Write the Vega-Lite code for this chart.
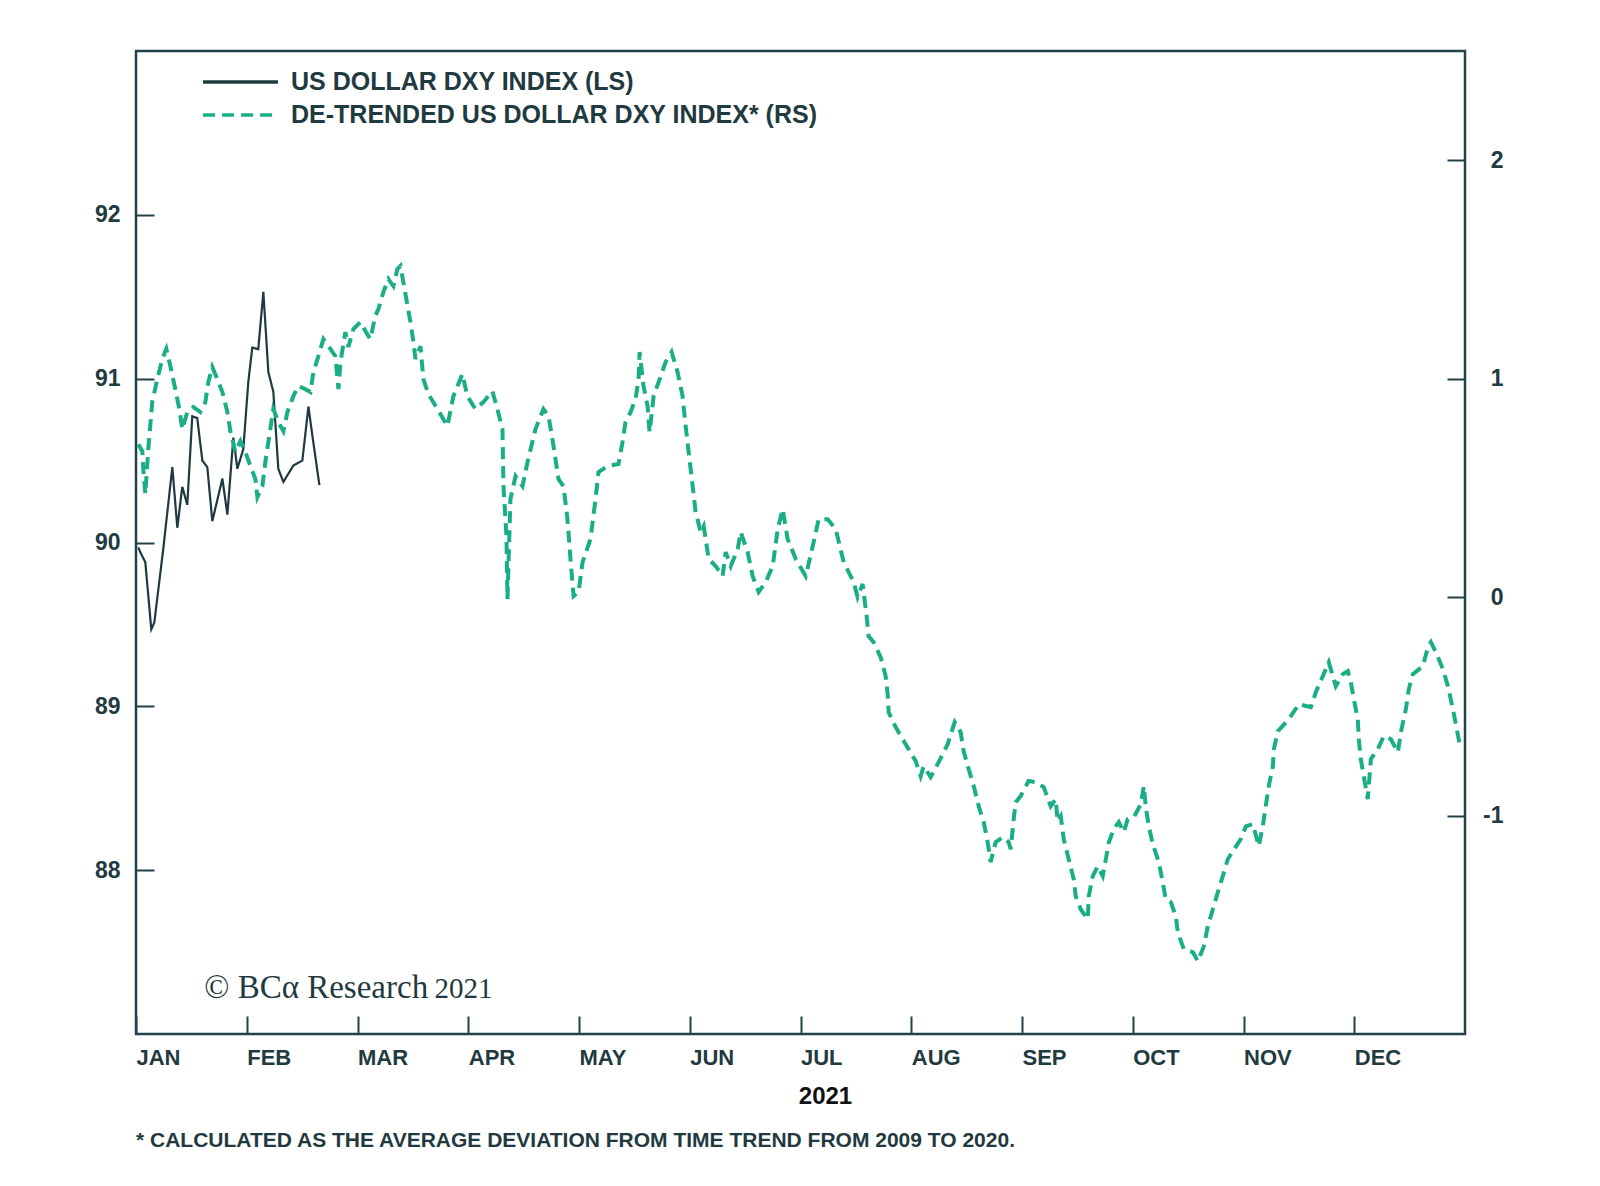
{
  "$schema": "https://vega.github.io/schema/vega-lite/v6.json",
  "width": 1329,
  "height": 983,
  "autosize": "none",
  "padding": {"left": 136, "top": 51, "right": 135, "bottom": 152},
  "background": "white",
  "title": {
    "text": "* CALCULATED AS THE AVERAGE DEVIATION FROM TIME TREND FROM 2009 TO 2020.",
    "orient": "bottom",
    "anchor": "start",
    "frame": "group",
    "font": "Liberation Sans",
    "fontSize": 21,
    "fontWeight": "bold",
    "color": "#1f3a40",
    "offset": 22
  },
  "datasets": {
    "dxy": [
      {"m": 0.021, "v": 89.97}, {"m": 0.039, "v": 89.94}, {"m": 0.084, "v": 89.88}, {"m": 0.138, "v": 89.47},
      {"m": 0.165, "v": 89.51}, {"m": 0.246, "v": 89.96}, {"m": 0.328, "v": 90.46}, {"m": 0.373, "v": 90.09},
      {"m": 0.418, "v": 90.34}, {"m": 0.463, "v": 90.23}, {"m": 0.508, "v": 90.77}, {"m": 0.553, "v": 90.76},
      {"m": 0.599, "v": 90.5}, {"m": 0.644, "v": 90.46}, {"m": 0.689, "v": 90.13}, {"m": 0.78, "v": 90.39},
      {"m": 0.825, "v": 90.17}, {"m": 0.879, "v": 90.64}, {"m": 0.915, "v": 90.45}, {"m": 0.969, "v": 90.57},
      {"m": 1.014, "v": 90.98}, {"m": 1.05, "v": 91.19}, {"m": 1.104, "v": 91.18}, {"m": 1.15, "v": 91.53},
      {"m": 1.195, "v": 91.04}, {"m": 1.24, "v": 90.92}, {"m": 1.285, "v": 90.45}, {"m": 1.331, "v": 90.37},
      {"m": 1.421, "v": 90.47}, {"m": 1.502, "v": 90.5}, {"m": 1.557, "v": 90.83}, {"m": 1.593, "v": 90.65},
      {"m": 1.656, "v": 90.35}
    ],
    "detr": [
      {"m": 0.021, "v": 0.7}, {"m": 0.057, "v": 0.668}, {"m": 0.066, "v": 0.586}, {"m": 0.084, "v": 0.472},
      {"m": 0.111, "v": 0.678}, {"m": 0.147, "v": 0.893}, {"m": 0.192, "v": 0.998}, {"m": 0.238, "v": 1.09},
      {"m": 0.274, "v": 1.136}, {"m": 0.31, "v": 1.058}, {"m": 0.355, "v": 0.952}, {"m": 0.391, "v": 0.861},
      {"m": 0.418, "v": 0.769}, {"m": 0.463, "v": 0.847}, {"m": 0.518, "v": 0.87}, {"m": 0.581, "v": 0.847},
      {"m": 0.626, "v": 0.893}, {"m": 0.653, "v": 0.984}, {"m": 0.689, "v": 1.053}, {"m": 0.734, "v": 0.998},
      {"m": 0.78, "v": 0.939}, {"m": 0.825, "v": 0.847}, {"m": 0.852, "v": 0.76}, {"m": 0.897, "v": 0.664},
      {"m": 0.943, "v": 0.714}, {"m": 0.988, "v": 0.664}, {"m": 1.033, "v": 0.6}, {"m": 1.078, "v": 0.54},
      {"m": 1.096, "v": 0.458}, {"m": 1.141, "v": 0.508}, {"m": 1.168, "v": 0.618}, {"m": 1.195, "v": 0.71},
      {"m": 1.24, "v": 0.861}, {"m": 1.285, "v": 0.801}, {"m": 1.331, "v": 0.76}, {"m": 1.367, "v": 0.847},
      {"m": 1.421, "v": 0.92}, {"m": 1.466, "v": 0.966}, {"m": 1.529, "v": 0.952}, {"m": 1.575, "v": 0.939},
      {"m": 1.602, "v": 1.03}, {"m": 1.647, "v": 1.103}, {"m": 1.692, "v": 1.181}, {"m": 1.755, "v": 1.136},
      {"m": 1.8, "v": 1.103}, {"m": 1.828, "v": 0.952}, {"m": 1.846, "v": 1.076}, {"m": 1.891, "v": 1.213},
      {"m": 1.918, "v": 1.145}, {"m": 1.963, "v": 1.227}, {"m": 2.026, "v": 1.259}, {"m": 2.071, "v": 1.218},
      {"m": 2.116, "v": 1.181}, {"m": 2.161, "v": 1.287}, {"m": 2.189, "v": 1.319}, {"m": 2.234, "v": 1.397},
      {"m": 2.279, "v": 1.456}, {"m": 2.324, "v": 1.424}, {"m": 2.36, "v": 1.502}, {"m": 2.388, "v": 1.516},
      {"m": 2.478, "v": 1.259}, {"m": 2.505, "v": 1.168}, {"m": 2.523, "v": 1.09}, {"m": 2.568, "v": 1.149},
      {"m": 2.595, "v": 0.998}, {"m": 2.64, "v": 0.929}, {"m": 2.722, "v": 0.861}, {"m": 2.812, "v": 0.783},
      {"m": 2.866, "v": 0.92}, {"m": 2.947, "v": 1.021}, {"m": 2.992, "v": 0.92}, {"m": 3.065, "v": 0.861},
      {"m": 3.137, "v": 0.893}, {"m": 3.218, "v": 0.943}, {"m": 3.263, "v": 0.861}, {"m": 3.309, "v": 0.769},
      {"m": 3.318, "v": 0.508}, {"m": 3.345, "v": 0.279}, {"m": 3.354, "v": -0.009}, {"m": 3.381, "v": 0.449},
      {"m": 3.427, "v": 0.554}, {"m": 3.49, "v": 0.508}, {"m": 3.535, "v": 0.618}, {"m": 3.607, "v": 0.769},
      {"m": 3.679, "v": 0.861}, {"m": 3.725, "v": 0.829}, {"m": 3.77, "v": 0.691}, {"m": 3.815, "v": 0.54},
      {"m": 3.86, "v": 0.508}, {"m": 3.896, "v": 0.357}, {"m": 3.923, "v": 0.174}, {"m": 3.951, "v": 0.005},
      {"m": 3.996, "v": 0.023}, {"m": 4.032, "v": 0.16}, {"m": 4.104, "v": 0.266}, {"m": 4.149, "v": 0.449},
      {"m": 4.176, "v": 0.572}, {"m": 4.258, "v": 0.6}, {"m": 4.357, "v": 0.609}, {"m": 4.393, "v": 0.71},
      {"m": 4.42, "v": 0.801}, {"m": 4.466, "v": 0.847}, {"m": 4.511, "v": 0.907}, {"m": 4.538, "v": 0.998},
      {"m": 4.547, "v": 1.122}, {"m": 4.583, "v": 0.966}, {"m": 4.619, "v": 0.875}, {"m": 4.637, "v": 0.755},
      {"m": 4.674, "v": 0.92}, {"m": 4.719, "v": 0.984}, {"m": 4.782, "v": 1.076}, {"m": 4.836, "v": 1.122},
      {"m": 4.89, "v": 1.03}, {"m": 4.935, "v": 0.92}, {"m": 4.963, "v": 0.783}, {"m": 4.99, "v": 0.664},
      {"m": 5.026, "v": 0.508}, {"m": 5.053, "v": 0.389}, {"m": 5.099, "v": 0.298}, {"m": 5.126, "v": 0.325},
      {"m": 5.171, "v": 0.174}, {"m": 5.234, "v": 0.142}, {"m": 5.297, "v": 0.096}, {"m": 5.324, "v": 0.206},
      {"m": 5.37, "v": 0.142}, {"m": 5.433, "v": 0.22}, {"m": 5.46, "v": 0.298}, {"m": 5.523, "v": 0.206},
      {"m": 5.568, "v": 0.096}, {"m": 5.622, "v": 0.023}, {"m": 5.686, "v": 0.069}, {"m": 5.749, "v": 0.142},
      {"m": 5.794, "v": 0.311}, {"m": 5.839, "v": 0.403}, {"m": 5.884, "v": 0.266}, {"m": 5.957, "v": 0.174},
      {"m": 6.047, "v": 0.096}, {"m": 6.119, "v": 0.252}, {"m": 6.164, "v": 0.357}, {"m": 6.245, "v": 0.357},
      {"m": 6.318, "v": 0.311}, {"m": 6.39, "v": 0.16}, {"m": 6.48, "v": 0.069}, {"m": 6.516, "v": 0.0},
      {"m": 6.561, "v": 0.06}, {"m": 6.597, "v": -0.087}, {"m": 6.615, "v": -0.179}, {"m": 6.66, "v": -0.206},
      {"m": 6.724, "v": -0.275}, {"m": 6.769, "v": -0.362}, {"m": 6.787, "v": -0.444}, {"m": 6.796, "v": -0.527},
      {"m": 6.859, "v": -0.595}, {"m": 6.949, "v": -0.673}, {"m": 7.04, "v": -0.751}, {"m": 7.085, "v": -0.82},
      {"m": 7.112, "v": -0.774}, {"m": 7.175, "v": -0.824}, {"m": 7.248, "v": -0.755}, {"m": 7.329, "v": -0.673},
      {"m": 7.392, "v": -0.572}, {"m": 7.446, "v": -0.618}, {"m": 7.473, "v": -0.705}, {"m": 7.519, "v": -0.788},
      {"m": 7.564, "v": -0.865}, {"m": 7.609, "v": -0.957}, {"m": 7.654, "v": -1.03}, {"m": 7.69, "v": -1.122},
      {"m": 7.717, "v": -1.213}, {"m": 7.762, "v": -1.122}, {"m": 7.826, "v": -1.099}, {"m": 7.88, "v": -1.122},
      {"m": 7.898, "v": -1.154}, {"m": 7.925, "v": -1.016}, {"m": 7.943, "v": -0.939}, {"m": 7.988, "v": -0.911},
      {"m": 8.06, "v": -0.842}, {"m": 8.124, "v": -0.847}, {"m": 8.196, "v": -0.87}, {"m": 8.259, "v": -0.957},
      {"m": 8.304, "v": -0.925}, {"m": 8.322, "v": -1.026}, {"m": 8.35, "v": -1.003}, {"m": 8.377, "v": -1.108},
      {"m": 8.422, "v": -1.2}, {"m": 8.467, "v": -1.291}, {"m": 8.485, "v": -1.369}, {"m": 8.53, "v": -1.429},
      {"m": 8.594, "v": -1.474}, {"m": 8.603, "v": -1.369}, {"m": 8.639, "v": -1.277}, {"m": 8.684, "v": -1.232},
      {"m": 8.729, "v": -1.277}, {"m": 8.757, "v": -1.2}, {"m": 8.784, "v": -1.122}, {"m": 8.829, "v": -1.062},
      {"m": 8.874, "v": -1.03}, {"m": 8.919, "v": -1.076}, {"m": 8.955, "v": -1.016}, {"m": 9.01, "v": -1.007},
      {"m": 9.073, "v": -0.948}, {"m": 9.1, "v": -0.865}, {"m": 9.118, "v": -0.962}, {"m": 9.145, "v": -1.049},
      {"m": 9.181, "v": -1.131}, {"m": 9.235, "v": -1.213}, {"m": 9.271, "v": -1.305}, {"m": 9.298, "v": -1.383},
      {"m": 9.344, "v": -1.397}, {"m": 9.389, "v": -1.461}, {"m": 9.407, "v": -1.534}, {"m": 9.461, "v": -1.612},
      {"m": 9.542, "v": -1.625}, {"m": 9.588, "v": -1.667}, {"m": 9.642, "v": -1.598}, {"m": 9.678, "v": -1.506},
      {"m": 9.723, "v": -1.429}, {"m": 9.768, "v": -1.351}, {"m": 9.813, "v": -1.277}, {"m": 9.858, "v": -1.2},
      {"m": 9.903, "v": -1.163}, {"m": 9.976, "v": -1.108}, {"m": 10.021, "v": -1.049}, {"m": 10.084, "v": -1.039},
      {"m": 10.138, "v": -1.14}, {"m": 10.174, "v": -1.049}, {"m": 10.201, "v": -0.957}, {"m": 10.228, "v": -0.865},
      {"m": 10.265, "v": -0.774}, {"m": 10.274, "v": -0.696}, {"m": 10.31, "v": -0.614}, {"m": 10.409, "v": -0.559},
      {"m": 10.5, "v": -0.49}, {"m": 10.608, "v": -0.504}, {"m": 10.653, "v": -0.435}, {"m": 10.716, "v": -0.362},
      {"m": 10.77, "v": -0.298}, {"m": 10.833, "v": -0.408}, {"m": 10.897, "v": -0.353}, {"m": 10.942, "v": -0.339},
      {"m": 10.969, "v": -0.389}, {"m": 10.996, "v": -0.467}, {"m": 11.032, "v": -0.559}, {"m": 11.041, "v": -0.65},
      {"m": 11.059, "v": -0.742}, {"m": 11.086, "v": -0.82}, {"m": 11.122, "v": -0.925}, {"m": 11.15, "v": -0.742},
      {"m": 11.213, "v": -0.696}, {"m": 11.267, "v": -0.636}, {"m": 11.33, "v": -0.65}, {"m": 11.394, "v": -0.71},
      {"m": 11.421, "v": -0.618}, {"m": 11.466, "v": -0.513}, {"m": 11.493, "v": -0.421}, {"m": 11.529, "v": -0.353},
      {"m": 11.62, "v": -0.316}, {"m": 11.665, "v": -0.229}, {"m": 11.692, "v": -0.206}, {"m": 11.737, "v": -0.252},
      {"m": 11.801, "v": -0.33}, {"m": 11.846, "v": -0.408}, {"m": 11.891, "v": -0.513}, {"m": 11.955, "v": -0.682}
    ],
    "logo": [
      {"label": "© BCα Research", "m": 0.617, "v": 87.22}
    ],
    "logoyear": [
      {"label": "2021", "m": 2.695, "v": 87.22}
    ]
  },
  "layer": [
    {
      "data": {"name": "logo"},
      "mark": {"type": "text", "font": "Liberation Serif", "fontSize": 33, "align": "left", "baseline": "alphabetic", "color": "#1f3a40"},
      "encoding": {
        "x": {"field": "m", "type": "quantitative", "scale": {"domain": [0, 12], "nice": false, "zero": false}},
        "y": {"field": "v", "type": "quantitative", "scale": {"domain": [87, 93], "nice": false, "zero": false}, "axis": null},
        "text": {"field": "label"}
      }
    },
    {
      "data": {"name": "logoyear"},
      "mark": {"type": "text", "font": "Liberation Serif", "fontSize": 29, "align": "left", "baseline": "alphabetic", "color": "#1f3a40"},
      "encoding": {
        "x": {"field": "m", "type": "quantitative"},
        "y": {"field": "v", "type": "quantitative", "scale": {"domain": [87, 93], "nice": false, "zero": false}, "axis": null},
        "text": {"field": "label"}
      }
    },
    {
      "data": {"name": "dxy"},
      "mark": {"type": "line", "strokeWidth": 2.2, "clip": true},
      "encoding": {
        "x": {
          "field": "m", "type": "quantitative",
          "scale": {"domain": [0, 12], "nice": false, "zero": false},
          "axis": {
            "values": [0, 1, 2, 3, 4, 5, 6, 7, 8, 9, 10, 11],
            "labelExpr": "['JAN','FEB','MAR','APR','MAY','JUN','JUL','AUG','SEP','OCT','NOV','DEC'][datum.value]",
            "labelAlign": "left",
            "labelBaseline": "top",
            "labelPadding": 31,
            "labelFontSize": 22,
            "labelFlush": false,
            "title": "2021",
            "titleFontSize": 24,
            "titleX": 689,
            "titleY": 69,
            "titleBaseline": "alphabetic",
            "titleAnchor": "start",
            "titleAlign": "center"
          }
        },
        "y": {
          "field": "v", "type": "quantitative",
          "scale": {"domain": [87, 93], "nice": false, "zero": false},
          "axis": {"orient": "left", "values": [88, 89, 90, 91, 92], "labelPadding": 34, "labelFontSize": 23, "title": null}
        },
        "color": {
          "datum": "US DOLLAR DXY INDEX (LS)",
          "scale": {"domain": ["US DOLLAR DXY INDEX (LS)", "DE-TRENDED US DOLLAR DXY INDEX* (RS)"], "range": ["#1d3a40", "#1aae87"]},
          "legend": {
            "orient": "none", "legendX": 65, "legendY": 18, "title": null,
            "symbolType": "stroke", "symbolSize": 5600, "symbolStrokeWidth": 3.5,
            "clipHeight": 26,
            "labelOffset": 11, "rowPadding": 7, "padding": 0
          }
        },
        "strokeDash": {
          "datum": "US DOLLAR DXY INDEX (LS)",
          "scale": {"domain": ["US DOLLAR DXY INDEX (LS)", "DE-TRENDED US DOLLAR DXY INDEX* (RS)"], "range": [[1, 0], [12, 7]]}
        }
      }
    },
    {
      "data": {"name": "detr"},
      "mark": {"type": "line", "strokeWidth": 4, "clip": true},
      "encoding": {
        "x": {"field": "m", "type": "quantitative"},
        "y": {
          "field": "v", "type": "quantitative",
          "scale": {"domain": [-2, 2.5], "nice": false, "zero": false},
          "axis": {"orient": "right", "values": [-1, 0, 1, 2], "labelExpr": "'' + datum.value", "labelAlign": "right", "labelPadding": 56, "labelFontSize": 23, "title": null}
        },
        "color": {"datum": "DE-TRENDED US DOLLAR DXY INDEX* (RS)"},
        "strokeDash": {"datum": "DE-TRENDED US DOLLAR DXY INDEX* (RS)"}
      }
    }
  ],
  "resolve": {"scale": {"y": "independent"}},
  "config": {
    "view": {"stroke": "#24404a", "strokeWidth": 2.5},
    "axis": {
      "domain": false,
      "grid": false,
      "ticks": true,
      "tickSize": -18,
      "tickWidth": 2,
      "tickColor": "#24404a",
      "labelFont": "Liberation Sans",
      "labelFontWeight": "bold",
      "labelColor": "#1f3a40",
      "titleFont": "Liberation Sans",
      "titleFontWeight": "bold",
      "titleColor": "#111111"
    },
    "legend": {
      "labelFont": "Liberation Sans",
      "labelFontWeight": "bold",
      "labelFontSize": 25,
      "labelColor": "#1f3a40",
      "labelLimit": 0
    }
  }
}
